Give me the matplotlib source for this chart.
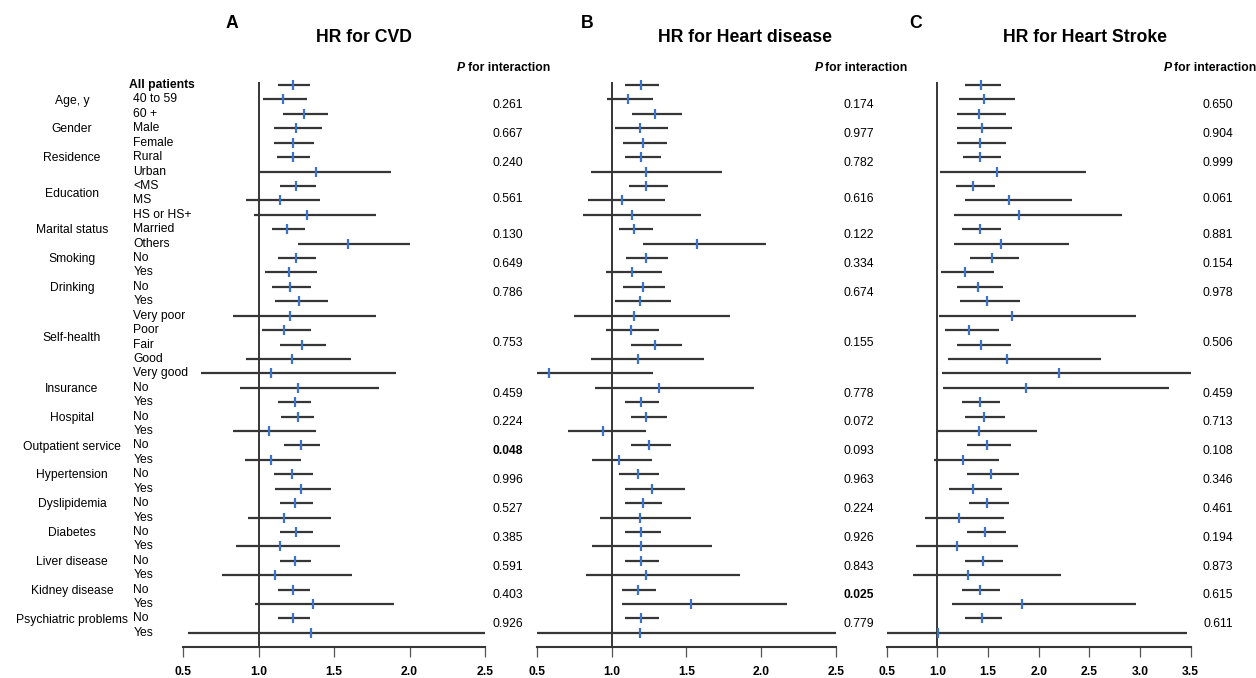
import matplotlib
matplotlib.use("Agg")
import matplotlib.pyplot as plt
from matplotlib.transforms import blended_transform_factory

plt.rcParams['font.family'] = ['Liberation Sans', 'DejaVu Sans']

# ---------------- data ----------------
groups = ["Age, y", "Gender", "Residence", "Education", "Marital status", "Smoking",
          "Drinking", "Self-health", "Insurance", "Hospital", "Outpatient service",
          "Hypertension", "Dyslipidemia", "Diabetes", "Liver disease", "Kidney disease",
          "Psychiatric problems"]
group_levels = [["40 to 59", "60 +"], ["Male", "Female"], ["Rural", "Urban"],
                ["<MS", "MS", "HS or HS+"], ["Married", "Others"], ["No", "Yes"],
                ["No", "Yes"], ["Very poor", "Poor", "Fair", "Good", "Very good"],
                ["No", "Yes"], ["No", "Yes"], ["No", "Yes"], ["No", "Yes"],
                ["No", "Yes"], ["No", "Yes"], ["No", "Yes"], ["No", "Yes"], ["No", "Yes"]]

# Panel A: HR for CVD (first row = All patients)
cvd_est = [1.23, 1.16, 1.30, 1.25, 1.23, 1.23, 1.38, 1.25, 1.14, 1.32, 1.19, 1.59,
           1.25, 1.20, 1.21, 1.27, 1.21, 1.17, 1.29, 1.22, 1.08, 1.26, 1.24, 1.26,
           1.07, 1.28, 1.08, 1.22, 1.28, 1.24, 1.17, 1.25, 1.14, 1.24, 1.11, 1.23,
           1.36, 1.23, 1.35]
cvd_lo = [1.13, 1.03, 1.16, 1.10, 1.10, 1.12, 1.01, 1.14, 0.92, 0.97, 1.09, 1.26,
          1.13, 1.04, 1.09, 1.11, 0.83, 1.02, 1.14, 0.92, 0.62, 0.88, 1.13, 1.15,
          0.83, 1.17, 0.91, 1.10, 1.11, 1.14, 0.93, 1.14, 0.85, 1.14, 0.76, 1.13,
          0.98, 1.13, 0.53]
cvd_hi = [1.34, 1.32, 1.46, 1.42, 1.37, 1.34, 1.88, 1.38, 1.41, 1.78, 1.31, 2.00,
          1.38, 1.39, 1.35, 1.46, 1.78, 1.35, 1.45, 1.61, 1.91, 1.80, 1.35, 1.37,
          1.38, 1.41, 1.28, 1.36, 1.48, 1.36, 1.48, 1.36, 1.54, 1.35, 1.62, 1.34,
          1.90, 1.34, 2.55]
cvd_p = ["0.261", "0.667", "0.240", "0.561", "0.130", "0.649", "0.786", "0.753",
         "0.459", "0.224", "0.048", "0.996", "0.527", "0.385", "0.591", "0.403", "0.926"]
cvd_p_bold = ["0.048"]

# Panel B: HR for Heart disease
hd_est = [1.20, 1.11, 1.29, 1.19, 1.21, 1.20, 1.23, 1.23, 1.07, 1.14, 1.15, 1.57,
          1.23, 1.14, 1.21, 1.19, 1.15, 1.13, 1.29, 1.18, 0.58, 1.32, 1.20, 1.23,
          0.94, 1.25, 1.05, 1.18, 1.27, 1.21, 1.19, 1.20, 1.20, 1.20, 1.23, 1.18,
          1.53, 1.20, 1.19]
hd_lo = [1.09, 0.97, 1.14, 1.02, 1.08, 1.09, 0.86, 1.12, 0.84, 0.81, 1.05, 1.21,
         1.10, 0.96, 1.08, 1.02, 0.75, 0.96, 1.13, 0.86, 0.45, 0.89, 1.09, 1.13,
         0.71, 1.13, 0.87, 1.05, 1.09, 1.09, 0.92, 1.09, 0.87, 1.09, 0.83, 1.07,
         1.07, 1.09, 0.45]
hd_hi = [1.32, 1.28, 1.47, 1.38, 1.37, 1.33, 1.74, 1.38, 1.36, 1.60, 1.28, 2.03,
         1.38, 1.34, 1.36, 1.40, 1.79, 1.32, 1.47, 1.62, 1.28, 1.95, 1.32, 1.37,
         1.23, 1.40, 1.27, 1.32, 1.49, 1.34, 1.53, 1.33, 1.67, 1.32, 1.86, 1.30,
         2.17, 1.32, 2.60]
hd_p = ["0.174", "0.977", "0.782", "0.616", "0.122", "0.334", "0.674", "0.155",
        "0.778", "0.072", "0.093", "0.963", "0.224", "0.926", "0.843", "0.025", "0.779"]
hd_p_bold = ["0.025"]

# Panel C: HR for Heart Stroke
st_est = [1.43, 1.46, 1.41, 1.44, 1.42, 1.42, 1.59, 1.35, 1.71, 1.81, 1.42, 1.63,
          1.54, 1.27, 1.40, 1.49, 1.74, 1.31, 1.43, 1.69, 2.20, 1.87, 1.42, 1.46,
          1.41, 1.49, 1.25, 1.53, 1.35, 1.49, 1.21, 1.47, 1.19, 1.45, 1.30, 1.42,
          1.84, 1.44, 1.01]
st_lo = [1.27, 1.21, 1.19, 1.19, 1.19, 1.25, 1.03, 1.18, 1.27, 1.16, 1.24, 1.16,
         1.32, 1.04, 1.19, 1.22, 1.02, 1.08, 1.19, 1.10, 1.05, 1.06, 1.24, 1.27,
         1.00, 1.29, 0.97, 1.29, 1.11, 1.31, 0.88, 1.29, 0.79, 1.27, 0.76, 1.24,
         1.14, 1.27, 0.45]
st_hi = [1.63, 1.77, 1.68, 1.74, 1.68, 1.63, 2.47, 1.57, 2.33, 2.82, 1.63, 2.30,
         1.81, 1.56, 1.65, 1.82, 2.96, 1.61, 1.73, 2.61, 3.60, 3.29, 1.62, 1.67,
         1.98, 1.73, 1.61, 1.81, 1.64, 1.71, 1.66, 1.68, 1.80, 1.65, 2.22, 1.62,
         2.96, 1.64, 3.46]
st_p = ["0.650", "0.904", "0.999", "0.061", "0.881", "0.154", "0.978", "0.506",
        "0.459", "0.713", "0.108", "0.346", "0.461", "0.194", "0.873", "0.615", "0.611"]
st_p_bold = []

x_ticks_ab = [0.5, 1.0, 1.5, 2.0, 2.5]
x_ticks_c = [0.5, 1.0, 1.5, 2.0, 2.5, 3.0, 3.5]

# ---------------- layout ----------------
W, H = 1256, 678
fig = plt.figure(figsize=(W / 100, H / 100), dpi=100)
fig.patch.set_facecolor("white")

AX_BOTTOM_PX = 647.3
AX_TOP_PX = 70.6

LINE_COL = "#363636"
MARK_COL = "#3a72cc"
FS = 8.7

# row positions
row_labels = ["All patients"]
group_rows = []
for lv in group_levels:
    start = len(row_labels)
    row_labels.extend(lv)
    group_rows.append(list(range(start, start + len(lv))))
n_rows = len(row_labels)


def make_panel(left_px, right_px, xlim, ticks, est, lo, hi):
    ax = fig.add_axes([left_px / W, (H - AX_BOTTOM_PX) / H,
                       (right_px - left_px) / W, (AX_BOTTOM_PX - AX_TOP_PX) / H])
    ax.set_xlim(*xlim)
    ax.set_ylim(n_rows, -1)
    ax.patch.set_alpha(0)
    for s in ["top", "left", "right"]:
        ax.spines[s].set_visible(False)
    ax.spines["bottom"].set_bounds(xlim[0], xlim[1])
    ax.spines["bottom"].set_linewidth(1.5)
    ax.spines["bottom"].set_color(LINE_COL)
    ax.set_yticks([])
    ax.set_xticks(ticks)
    ax.set_xticklabels([f"{t:.1f}" for t in ticks], fontweight="bold", fontsize=FS)
    ax.tick_params(axis="x", direction="out", length=7, width=0.9, color="#555555", pad=6.5)
    ax.vlines(1.0, -0.2, n_rows, color="black", lw=1.1, zorder=2)
    rows = list(range(n_rows))
    ax.hlines(rows, lo, hi, color=LINE_COL, lw=1.6, zorder=3)
    ax.plot(est, rows, linestyle="none", marker="|", markersize=7, mew=1.6,
            color=MARK_COL, zorder=4)
    return ax


axA = make_panel(183, 485, (0.5, 2.5), x_ticks_ab, cvd_est, cvd_lo, cvd_hi)
axB = make_panel(536.7, 836, (0.5, 2.5), x_ticks_ab, hd_est, hd_lo, hd_hi)
axC = make_panel(886.7, 1190.7, (0.5, 3.5), x_ticks_c, st_est, st_lo, st_hi)

trA = blended_transform_factory(fig.transFigure, axA.transData)

# row labels
for i, lab in enumerate(row_labels):
    if i == 0:
        fig.text(129.3 / W, 0, lab, transform=trA, fontsize=FS, fontweight="bold",
                 ha="left", va="center")
    else:
        fig.text(133.3 / W, i, lab, transform=trA, fontsize=FS, ha="left", va="center")

# group labels
for g, rows in zip(groups, group_rows):
    mid = (rows[0] + rows[-1]) / 2.0
    fig.text(72 / W, mid - 0.42, g, transform=trA, fontsize=FS, ha="center", va="center")

# p-values
for xpx, pv, bold in [(508, cvd_p, cvd_p_bold), (859, hd_p, hd_p_bold),
                      (1218, st_p, st_p_bold)]:
    for p, rows in zip(pv, group_rows):
        mid = (rows[0] + rows[-1]) / 2.0
        fig.text(xpx / W, mid - 0.1, p, transform=trA, fontsize=FS, ha="center",
                 va="center", fontweight="bold" if p in bold else "normal")

# headers
for xpx in [456.7, 814.3, 1163.3]:
    y = 1 - 67.7 / H
    fig.text(xpx / W, y, "P", fontsize=FS, fontweight="bold", fontstyle="italic",
             ha="left", va="center")
    fig.text((xpx + 11.0) / W, y, "for interaction", fontsize=FS, fontweight="bold",
             ha="left", va="center")

# panel letters and titles
for letter, lx, title, tx in [("A", 232, "HR for CVD", 364),
                              ("B", 587, "HR for Heart disease", 745),
                              ("C", 916, "HR for Heart Stroke", 1085)]:
    fig.text(lx / W, 1 - 23 / H, letter, fontsize=12.7, fontweight="bold",
             ha="center", va="center")
    fig.text(tx / W, 1 - 37.5 / H, title, fontsize=12.7, fontweight="bold",
             ha="center", va="center")

fig.savefig("out.png", dpi=100)
